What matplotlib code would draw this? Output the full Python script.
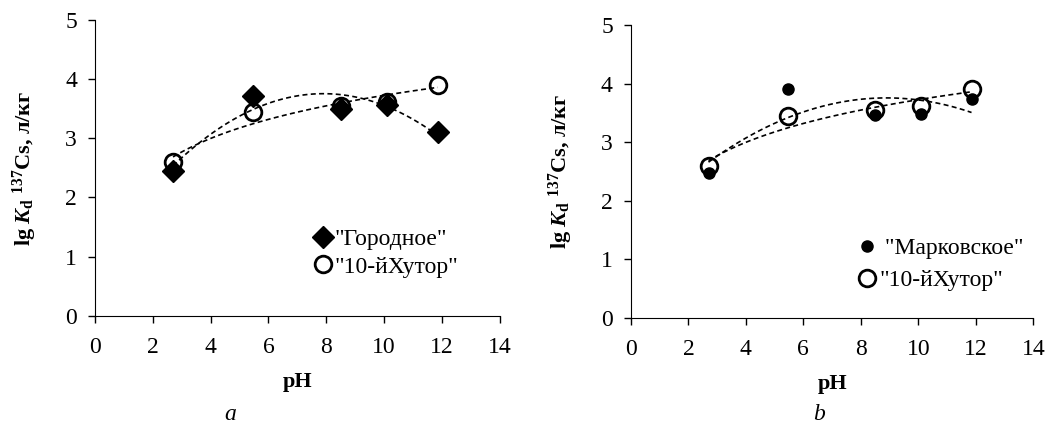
import numpy as np
import matplotlib
matplotlib.use("Agg")
import matplotlib.pyplot as plt

plt.rcParams['font.family'] = ['Liberation Serif', 'DejaVu Serif']
plt.rcParams['mathtext.fontset'] = 'custom'
plt.rcParams['mathtext.rm'] = 'Liberation Serif:bold'
plt.rcParams['mathtext.it'] = 'Liberation Serif:italic:bold'
plt.rcParams['mathtext.bf'] = 'Liberation Serif:bold'

# данные
ph = [2.7, 5.45, 8.5, 10.1, 11.85]
gorodnoe = [2.45, 3.72, 3.50, 3.57, 3.10]
khutor = [2.60, 3.45, 3.55, 3.62, 3.90]
markovskoe = [2.47, 3.90, 3.47, 3.48, 3.73]

lbl_gorodnoe = '"Городное"'
lbl_markovskoe = ' "Марковское"'
lbl_khutor = '"10-йХутор"'


def poly_trend(x, y):
    x = np.asarray(x)
    c = np.polyfit(x, y, 2)
    xs = np.linspace(x.min(), x.max(), 100)
    return xs, np.polyval(c, xs)


def log_trend(x, y):
    x = np.asarray(x)
    b, a = np.polyfit(np.log(x), y, 1)
    xs = np.linspace(x.min(), x.max(), 100)
    return xs, a + b * np.log(xs)


def setup(ax):
    ax.set_xlim(0, 14)
    ax.set_ylim(0, 5)
    ax.set_xticks(range(0, 15, 2))
    ax.set_yticks(range(0, 6))
    ax.spines['top'].set_visible(False)
    ax.spines['right'].set_visible(False)
    ax.tick_params(direction='out', length=5, labelsize=17, width=1)
    ax.tick_params(axis='x', pad=10)
    ax.tick_params(axis='y', pad=8)
    ax.set_xlabel('pH', fontsize=16, fontweight='bold', labelpad=10)
    ax.set_ylabel(r'lg $\mathit{K}_\mathrm{d}$ $^{137}$Cs, л/кг', fontsize=16,
                  fontweight='bold', labelpad=19)


fig = plt.figure(figsize=(10.48, 4.24), dpi=100)
ax1 = fig.add_axes([0.0906, 0.255, 0.3864, 0.698])
ax2 = fig.add_axes([0.602, 0.250, 0.384, 0.691])

dash = dict(color='black', linestyle=(0, (3, 2)), linewidth=1.2, zorder=1)

# панель a
ax1.plot(*poly_trend(ph, gorodnoe), **dash)
ax1.plot(*log_trend(ph, khutor), **dash)
ax1.plot(ph, gorodnoe, linestyle='none', marker='D', markersize=11,
         color='black', label=lbl_gorodnoe, zorder=2)
ax1.plot(ph, khutor, linestyle='none', marker='o', markersize=12,
         markerfacecolor='none', markeredgecolor='black', markeredgewidth=2,
         label=lbl_khutor, zorder=3)
setup(ax1)
ax1.legend(loc='lower left', bbox_to_anchor=(0.51, 0.097), frameon=False,
           fontsize=17, handletextpad=0.0, handlelength=1.0, labelspacing=0.25,
           borderaxespad=0)

# панель b
ax2.plot(*poly_trend(ph, markovskoe), **dash)
ax2.plot(*log_trend(ph, khutor), **dash)
ax2.plot(ph, markovskoe, linestyle='none', marker='o', markersize=8,
         color='black', label=lbl_markovskoe, zorder=2)
ax2.plot(ph, khutor, linestyle='none', marker='o', markersize=12,
         markerfacecolor='none', markeredgecolor='black', markeredgewidth=2,
         label=lbl_khutor, zorder=3)
setup(ax2)
ax2.legend(loc='lower left', bbox_to_anchor=(0.535, 0.06), frameon=False,
           fontsize=17, handletextpad=0.0, handlelength=1.0, labelspacing=0.45,
           borderaxespad=0)

# подписи панелей
fig.text(0.2195, 0.022, 'a', ha='center', va='center', fontsize=17, style='italic')
fig.text(0.7815, 0.022, 'b', ha='center', va='center', fontsize=17, style='italic')

fig.savefig('out.png', dpi=100)
